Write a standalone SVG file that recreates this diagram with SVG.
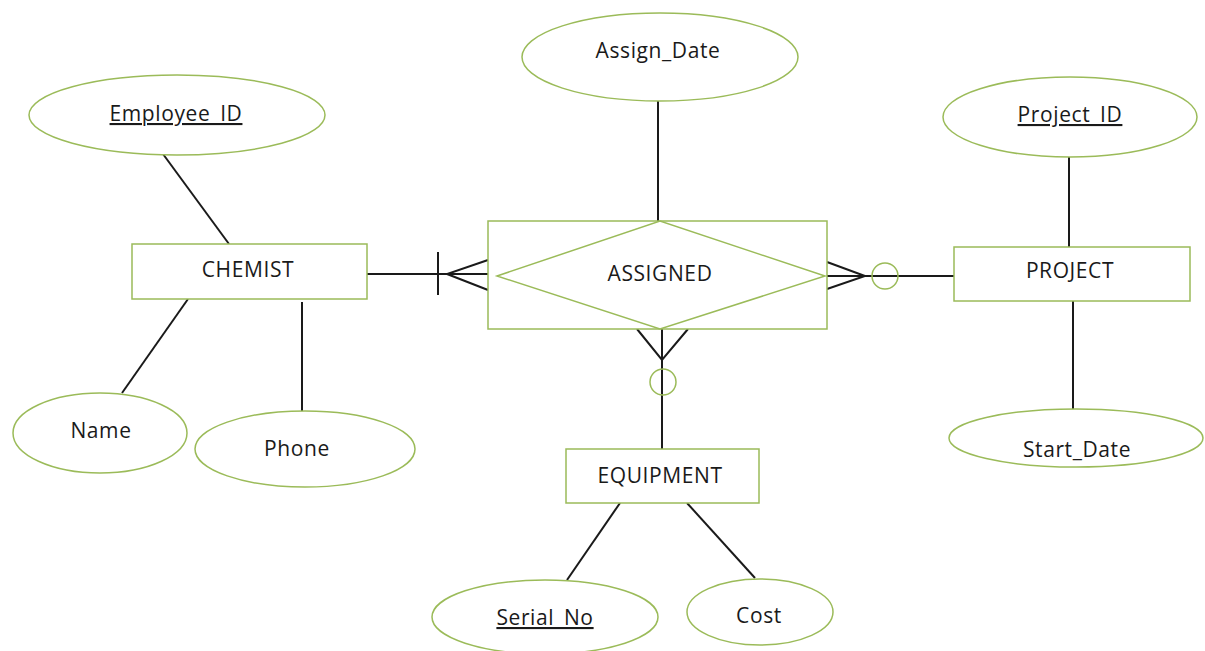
<svg xmlns="http://www.w3.org/2000/svg" width="1205" height="651" viewBox="0 0 1205 651">
<style>
.shape{fill:#ffffff;stroke:#9bbb59;stroke-width:1.5}
.circ{fill:none;stroke:#9bbb59;stroke-width:1.5}
.ln{stroke:#1a1a1a;stroke-width:2;fill:none}
text{font-family:"Open Sans","Liberation Sans",sans-serif;font-size:21px;fill:#1a1a1a;text-anchor:middle;letter-spacing:0.6px}
.key{text-decoration:underline}
</style>
<rect x="0" y="0" width="1205" height="651" fill="#ffffff"/>
<g id="connectors">
<line class="ln" x1="163" y1="154" x2="229" y2="244"/>
<line class="ln" x1="188" y1="299" x2="122" y2="393"/>
<line class="ln" x1="302" y1="302" x2="302" y2="411"/>
<line class="ln" x1="658" y1="100" x2="658" y2="221"/>
<line class="ln" x1="1069" y1="157" x2="1069" y2="247"/>
<line class="ln" x1="1073" y1="301" x2="1073" y2="410"/>
<line class="ln" x1="620" y1="503" x2="567" y2="580"/>
<line class="ln" x1="687" y1="503" x2="755" y2="578"/>
<line class="ln" x1="367" y1="274" x2="488" y2="274"/>
<line class="ln" x1="438" y1="252" x2="438" y2="295"/>
<polyline class="ln" points="488,260 447,274 488,290"/>
<line class="ln" x1="827" y1="276" x2="954" y2="276"/>
<polyline class="ln" points="827,262 865,276 827,289"/>
<circle class="circ" cx="885" cy="276" r="13"/>
<line class="ln" x1="662" y1="329" x2="662" y2="449"/>
<polyline class="ln" points="637,329 662,360 688,329"/>
<circle class="circ" cx="663" cy="382" r="13"/>
</g>
<g id="assign_date"><ellipse class="shape" cx="660" cy="57" rx="138" ry="44"/><text x="658" y="58">Assign_Date</text></g>
<g id="employee_id"><ellipse class="shape" cx="177" cy="115" rx="148" ry="40"/><text class="key" x="176" y="121">Employee_ID</text></g>
<g id="chemist"><rect class="shape" x="132" y="244" width="235" height="55"/><text x="248" y="277">CHEMIST</text></g>
<g id="name"><ellipse class="shape" cx="100" cy="433" rx="87" ry="40"/><text x="101" y="438">Name</text></g>
<g id="phone"><ellipse class="shape" cx="305" cy="449" rx="110" ry="38"/><text x="297" y="456">Phone</text></g>
<g id="assigned"><rect class="shape" x="488" y="221" width="339" height="108"/><polygon class="shape" points="497,276 660,221 825,276 660,329"/><text x="660" y="281">ASSIGNED</text></g>
<g id="project_id"><ellipse class="shape" cx="1070" cy="117" rx="127" ry="40"/><text class="key" x="1070" y="122">Project_ID</text></g>
<g id="project"><rect class="shape" x="954" y="247" width="236" height="54"/><text x="1070" y="278">PROJECT</text></g>
<g id="start_date"><ellipse class="shape" cx="1076" cy="438" rx="127" ry="29"/><text x="1077" y="457">Start_Date</text></g>
<g id="equipment"><rect class="shape" x="566" y="449" width="193" height="54"/><text x="660" y="483">EQUIPMENT</text></g>
<g id="serial_no"><ellipse class="shape" cx="545" cy="617" rx="113" ry="37"/><text class="key" x="545" y="625">Serial_No</text></g>
<g id="cost"><ellipse class="shape" cx="760" cy="612" rx="73" ry="33"/><text x="759" y="623">Cost</text></g>
</svg>
